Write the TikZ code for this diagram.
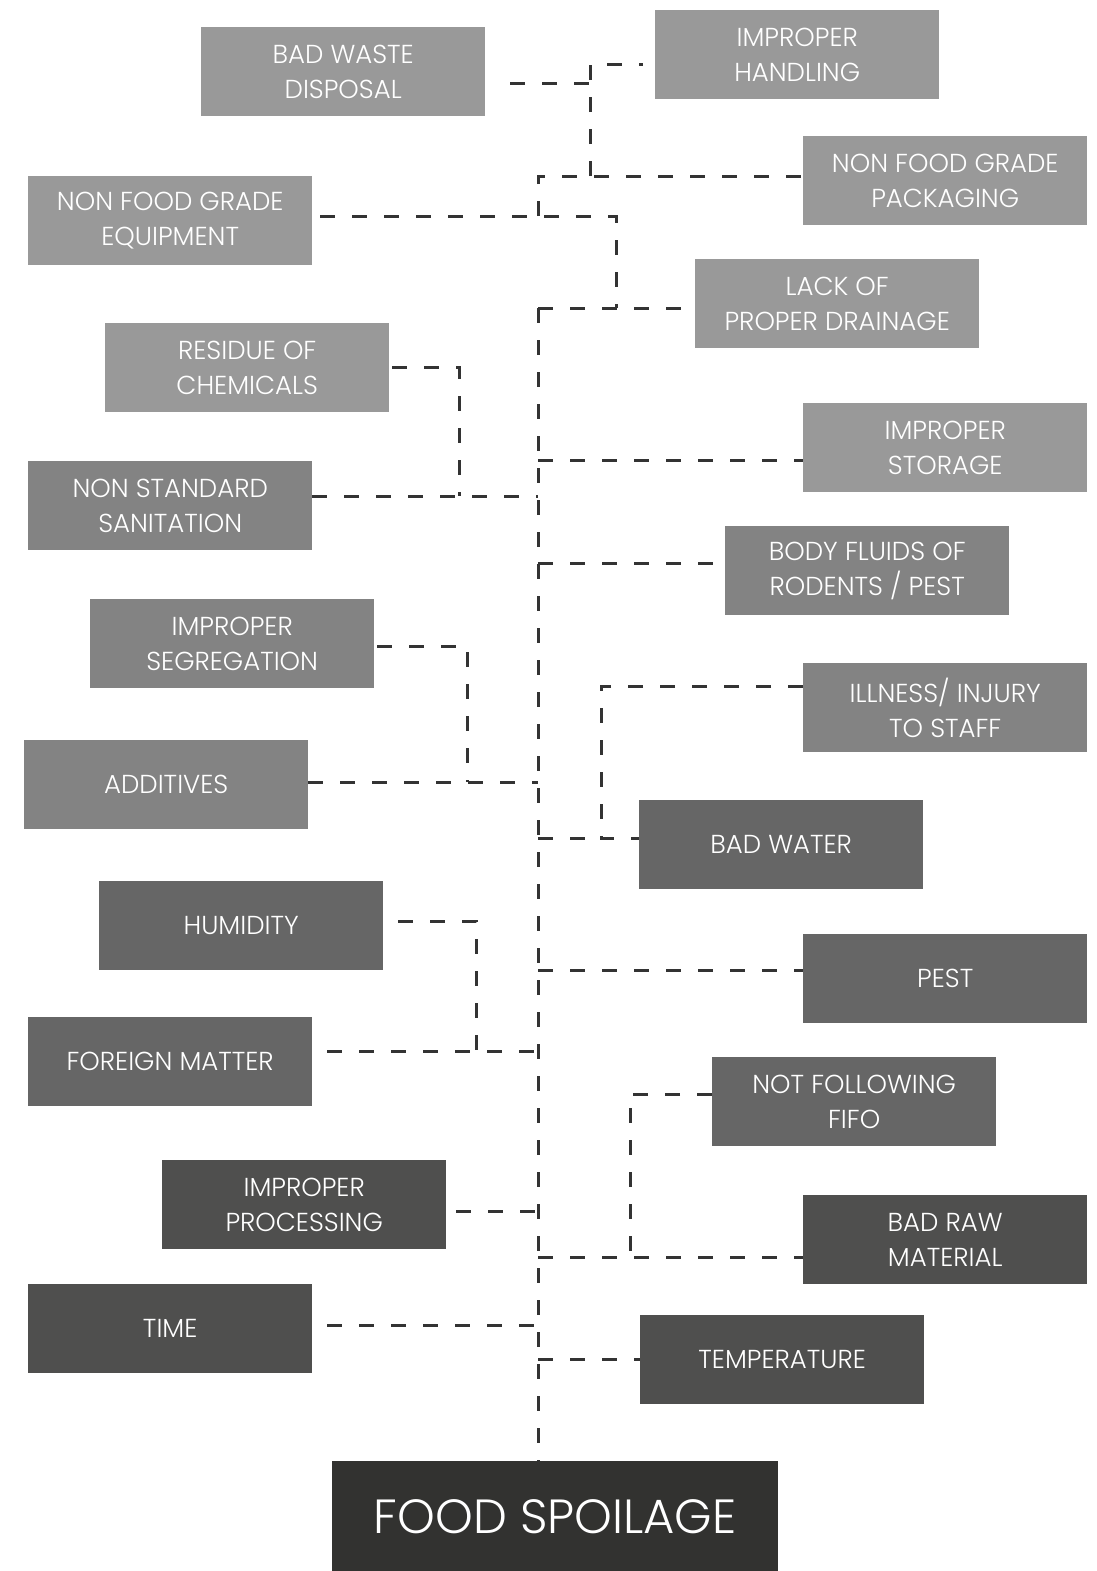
\documentclass[tikz,border=0pt]{standalone}
\usepackage{fontspec}
\setmainfont{Poppins Light}
\definecolor{gA}{HTML}{999999}
\definecolor{gB}{HTML}{838383}
\definecolor{gC}{HTML}{666666}
\definecolor{gD}{HTML}{4F4F4E}
\definecolor{gE}{HTML}{323230}
\definecolor{lineC}{HTML}{333333}
\begin{document}
\begin{tikzpicture}[x=1pt,y=-1pt,
  box/.style={fill=#1, text=white, minimum width=284pt, minimum height=89pt,
    inner sep=0pt, anchor=north west, align=center,
    font=\fontsize{26}{35}\selectfont},
  conn/.style={draw=lineC, line width=3pt, dash pattern=on 15pt off 17pt}]
\useasboundingbox (0,0) rectangle (1097,1571);

% boxes
\node[box=gA] (bws)  at (201,27)   {BAD WASTE\\DISPOSAL};
\node[box=gA] (ih)   at (655,10)   {IMPROPER\\HANDLING};
\node[box=gA] (nfgp) at (803,136)  {NON FOOD GRADE\\PACKAGING};
\node[box=gA] (nfge) at (28,176)   {NON FOOD GRADE\\EQUIPMENT};
\node[box=gA] (lpd)  at (695,259)  {LACK OF\\PROPER DRAINAGE};
\node[box=gA] (roc)  at (105,323)  {RESIDUE OF\\CHEMICALS};
\node[box=gA] (ist)  at (803,403)  {IMPROPER\\STORAGE};
\node[box=gB] (nss)  at (28,461)   {NON STANDARD\\SANITATION};
\node[box=gB] (bfr)  at (725,526)  {BODY FLUIDS OF\\RODENTS / PEST};
\node[box=gB] (iseg) at (90,599)   {IMPROPER\\SEGREGATION};
\node[box=gB] (iis)  at (803,663)  {ILLNESS/ INJURY\\TO STAFF};
\node[box=gB] (add)  at (24,740)   {ADDITIVES};
\node[box=gC] (bw)   at (639,800)  {BAD WATER};
\node[box=gC] (hum)  at (99,881)   {HUMIDITY};
\node[box=gC] (pest) at (803,934)  {PEST};
\node[box=gC] (fm)   at (28,1017)  {FOREIGN MATTER};
\node[box=gC] (fifo) at (712,1057) {NOT FOLLOWING\\FIFO};
\node[box=gD] (ipr)  at (162,1160) {IMPROPER\\PROCESSING};
\node[box=gD] (brm)  at (803,1195) {BAD RAW\\MATERIAL};
\node[box=gD] (time) at (28,1284)  {TIME};
\node[box=gD] (temp) at (640,1315) {TEMPERATURE};
\node[box=gE, minimum width=446pt, minimum height=110pt,
      font=\fontsize{48}{56}\selectfont] (fs) at (332,1461) {FOOD SPOILAGE};

% junction coordinates
\coordinate (a1) at (510,83);   \coordinate (a2) at (590,83);
\coordinate (a3) at (590,176);  \coordinate (a4) at (643,65);
\coordinate (t1) at (538,176);  \coordinate (t2) at (538,216);
\coordinate (b1) at (320,216);  \coordinate (b2) at (616,216);
\coordinate (t3) at (538,308);  \coordinate (b3) at (683,308);
\coordinate (tb) at (538,1461);
\coordinate (c1) at (392,367);  \coordinate (c2) at (459,496);
\coordinate (tc) at (538,496);
\coordinate (ts) at (538,460);
\coordinate (tf) at (538,563);  \coordinate (f1) at (715,563);
\coordinate (d1) at (377,646);  \coordinate (d2) at (467,782);
\coordinate (td) at (538,782);
\coordinate (e1) at (601,686);  \coordinate (te) at (538,838);
\coordinate (h1) at (398,921);  \coordinate (h2) at (476,1051);
\coordinate (h3) at (327,1051); \coordinate (th) at (538,1051);
\coordinate (tp) at (538,970);
\coordinate (k1) at (630,1094); \coordinate (tk) at (538,1257);
\coordinate (m1) at (456,1211); \coordinate (tm) at (538,1211);
\coordinate (n1) at (327,1325); \coordinate (tn) at (538,1325);
\coordinate (tt) at (538,1359);

% connectors
\draw[conn] (a1) -- (a2);
\draw[conn] (a3) |- (a4);
\draw[conn] (t2) -- (t1) -- (t1 -| nfgp.west);
\draw[conn] (b1) -- (b2) -- (b2 |- t3);
\draw[conn] (t3) -- (b3);
\draw[conn] (t3) -- (tb);
\draw[conn] (ts) -- (ts -| ist.west);
\draw[conn] (c1) -| (c2);
\draw[conn] (c2 -| nss.east) -- (tc);
\draw[conn] (tf) -- (f1);
\draw[conn] (d1) -| (d2);
\draw[conn] (d2 -| add.east) -- (td);
\draw[conn] (e1 -| iis.west) -- (e1) |- (te -| bw.west);
\draw[conn] (te) -- (te -| e1);
\draw[conn] (h1) -| (h2);
\draw[conn] (h3) -- (th);
\draw[conn] (tp) -- (tp -| pest.west);
\draw[conn] (k1 -| fifo.west) -- (k1) -- (k1 |- tk);
\draw[conn] (tk) -- (tk -| brm.west);
\draw[conn] (m1) -- (tm);
\draw[conn] (n1) -- (tn);
\draw[conn] (tt) -- (tt -| temp.west);
\end{tikzpicture}
\end{document}
